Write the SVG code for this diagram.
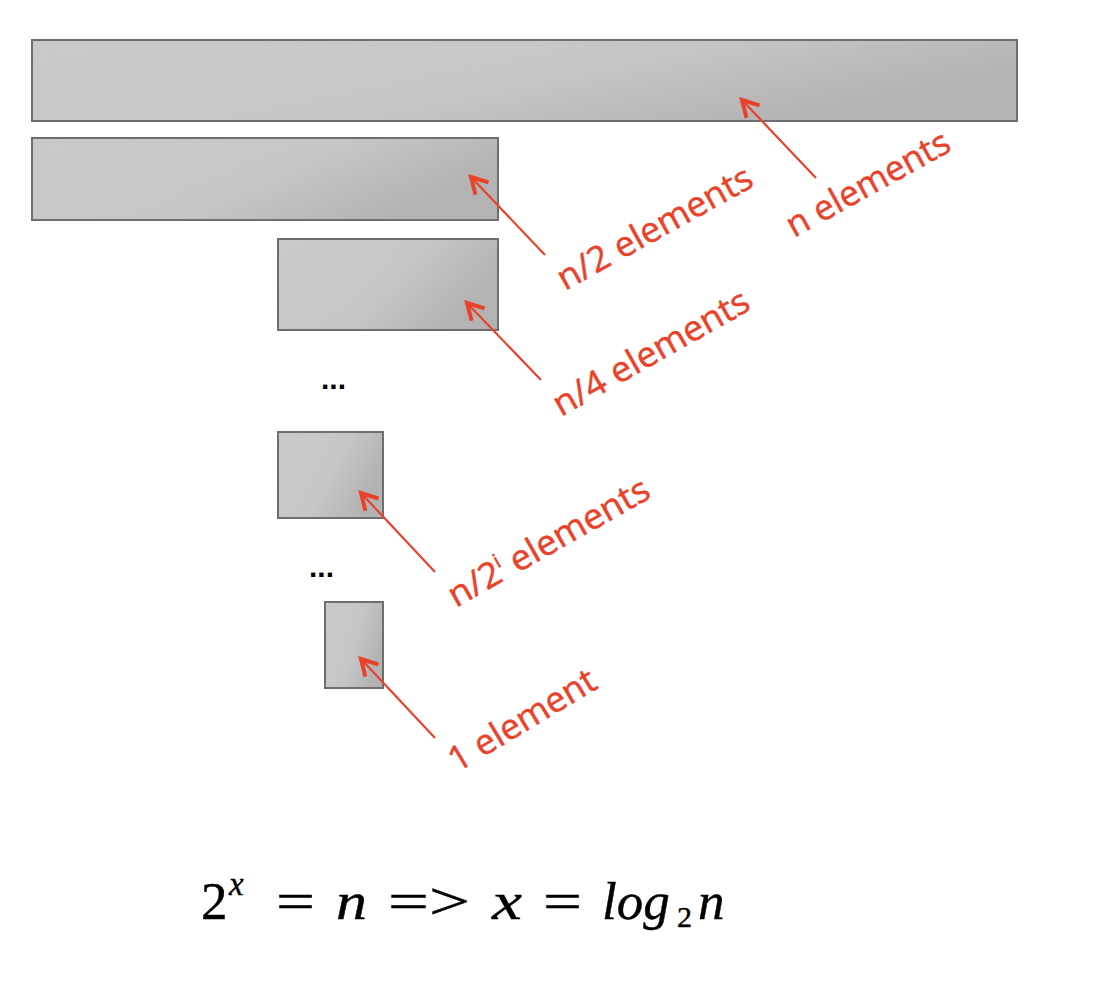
<svg xmlns="http://www.w3.org/2000/svg" width="1106" height="988" viewBox="0 0 1106 988">
<style>
.box{stroke:#6e6e6e;stroke-width:2}
.arr{stroke:#e8432a;stroke-width:2.2;fill:none;marker-end:url(#ah)}
.lbl{font-family:"Open Sans","Liberation Sans",sans-serif;font-size:35px;fill:#e8432a;stroke:#e8432a;stroke-width:0.5}
.dots{font-family:"Liberation Sans",sans-serif;font-size:30px;font-weight:bold;fill:#000}
.m{font-family:"Liberation Serif","Times New Roman",serif;fill:#000;font-size:53px;stroke:#000;stroke-width:0.4}
.mi{font-family:"Liberation Serif","Times New Roman",serif;font-style:italic;fill:#000;font-size:53px;stroke:#000;stroke-width:0.4}
</style>
<defs>
<linearGradient id="g" x1="0" y1="0" x2="1" y2="0.4">
<stop offset="0" stop-color="#c9c9c9"/>
<stop offset="0.6" stop-color="#c6c6c6"/>
<stop offset="1" stop-color="#b3b3b3"/>
</linearGradient>
<marker id="ah" markerWidth="10" markerHeight="10" refX="8" refY="5" orient="auto" markerUnits="userSpaceOnUse" viewBox="0 0 10 10" overflow="visible">
<path d="M-8,-4 L8,5 L-8,14" fill="none" stroke="#e8432a" stroke-width="4" stroke-linejoin="miter"/>
</marker>
</defs>
<rect width="1106" height="988" fill="#fff"/>
<g id="n1"><rect class="box" x="32" y="40" width="985" height="81" fill="url(#g)"/></g>
<g id="n2"><rect class="box" x="32" y="138" width="466" height="82" fill="url(#g)"/></g>
<g id="n3"><rect class="box" x="278" y="239" width="220" height="91" fill="url(#g)"/></g>
<g id="n4"><rect class="box" x="278" y="432" width="105" height="86" fill="url(#g)"/></g>
<g id="n5"><rect class="box" x="325" y="602" width="58" height="86" fill="url(#g)"/></g>
<g id="connectors">
<line class="arr" x1="816" y1="178" x2="742" y2="100"/>
<line class="arr" x1="545" y1="255" x2="471" y2="177"/>
<line class="arr" x1="541" y1="380" x2="467" y2="303"/>
<line class="arr" x1="435" y1="572" x2="361" y2="493"/>
<line class="arr" x1="435" y1="738" x2="361" y2="659"/>
</g>
<g id="labels">
<text class="lbl" transform="translate(794,238) rotate(-29)" textLength="182" lengthAdjust="spacingAndGlyphs">n elements</text>
<text class="lbl" transform="translate(565,291) rotate(-29)" textLength="218" lengthAdjust="spacingAndGlyphs">n/2 elements</text>
<text class="lbl" transform="translate(561,417) rotate(-29.5)" textLength="220" lengthAdjust="spacingAndGlyphs">n/4 elements</text>
<text class="lbl" transform="translate(456,608) rotate(-29.5)" textLength="226" lengthAdjust="spacingAndGlyphs">n/2<tspan font-size="20" dy="-14">i</tspan><tspan dy="14"> elements</tspan></text>
<text class="lbl" transform="translate(457,773) rotate(-31)" textLength="166" lengthAdjust="spacingAndGlyphs">1 element</text>
</g>
<text class="dots" x="321" y="389">...</text>
<text class="dots" x="309" y="577">...</text>
<g id="formula">
<text class="m" x="201" y="919">2<tspan x="229" y="895" font-style="italic" font-size="33">x</tspan></text>
<text class="m" x="276" y="919" textLength="39" lengthAdjust="spacingAndGlyphs">=</text>
<text class="mi" x="336" y="919" textLength="31" lengthAdjust="spacingAndGlyphs">n</text>
<text class="m" x="388" y="919" textLength="82" lengthAdjust="spacingAndGlyphs">=&gt;</text>
<text class="mi" x="492" y="919" textLength="30" lengthAdjust="spacingAndGlyphs">x</text>
<text class="m" x="543" y="919" textLength="39" lengthAdjust="spacingAndGlyphs">=</text>
<text class="mi" x="602" y="919">log<tspan x="677" y="927" font-style="normal" font-size="30">2</tspan><tspan x="698" y="919">n</tspan></text>
</g>
</svg>
